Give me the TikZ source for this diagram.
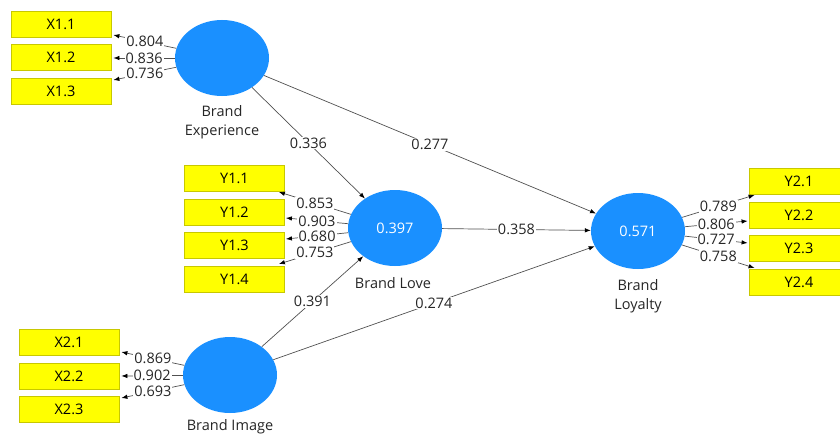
\documentclass[tikz,border=0pt]{standalone}
\usepackage{fontspec}
\setmainfont{Open Sans}
\usetikzlibrary{arrows.meta,calc,shapes.geometric}
\definecolor{lvblue}{HTML}{1A90FF}
\definecolor{indyel}{HTML}{FFFF00}
\definecolor{indbrd}{HTML}{C8C800}
\definecolor{pathgray}{HTML}{505050}
\begin{document}
\begin{tikzpicture}[x=1pt,y=-1pt,
  every node/.style={font=\fontsize{14.5}{18.5}\selectfont},
  latent/.style={ellipse,fill=lvblue,draw=none,minimum width=94pt,minimum height=76pt,inner sep=0pt,text=white},
  ind/.style={rectangle,fill=indyel,draw=indbrd,line width=0.8pt,minimum width=100pt,minimum height=26pt,inner sep=0pt,text=black},
  lname/.style={align=center,text=black!85},
  conn/.style={draw=pathgray,line width=0.7pt,-{Latex[length=6pt,width=4.5pt,color=black]}},
  coef/.style={fill=white,inner sep=1pt,text=black!85,pos=0.5}
]
\useasboundingbox (0,0) rectangle (840,436);
% latent variables
\node[latent] (be) at (222,58) {};
\node[latent] (bl) at (395,228) {0.397};
\node[latent] (by) at (638,231) {0.571};
\node[latent] (bi) at (230,375) {};
% names
\node[lname] (bet) at (222,122) {Brand\\Experience};
\node[lname] (blt) at (393,283) {Brand Love};
\node[lname] (byt) at (638,296) {Brand\\Loyalty};
\node[lname] (bit) at (230,427) {Brand Image};
% indicators
\node[ind] (x11) at (61,24) {X1.1};
\node[ind] (x12) at (61,57.5) {X1.2};
\node[ind] (x13) at (61,91) {X1.3};
\node[ind] (y11) at (234.5,178) {Y1.1};
\node[ind] (y12) at (234.5,212) {Y1.2};
\node[ind] (y13) at (234.5,245) {Y1.3};
\node[ind] (y14) at (234.5,279) {Y1.4};
\node[ind] (y21) at (799,181) {Y2.1};
\node[ind] (y22) at (799,215) {Y2.2};
\node[ind] (y23) at (799,248.5) {Y2.3};
\node[ind] (y24) at (799,282) {Y2.4};
\node[ind] (x21) at (69,342) {X2.1};
\node[ind] (x22) at (69,376) {X2.2};
\node[ind] (x23) at (69,409) {X2.3};
% tip coordinates
\coordinate (tx11) at ($(x11.east)+(2,11)$);
\coordinate (tx12) at ($(x12.east)+(2,0.5)$);
\coordinate (tx13) at ($(x13.east)+(2,-11)$);
\coordinate (ty11) at ($(y11.east)+(-6,14)$);
\coordinate (ty12) at ($(y12.east)+(1,6)$);
\coordinate (ty13) at ($(y13.east)+(1,-6)$);
\coordinate (ty14) at ($(y14.east)+(-6,-15)$);
\coordinate (ty21) at ($(y21.west)+(6,14)$);
\coordinate (ty22) at ($(y22.west)+(-1,6)$);
\coordinate (ty23) at ($(y23.west)+(-1,-5.5)$);
\coordinate (ty24) at ($(y24.west)+(6,-14)$);
\coordinate (tx21) at ($(x21.east)+(2,10)$);
\coordinate (tx22) at ($(x22.east)+(2,0)$);
\coordinate (tx23) at ($(x23.east)+(2,-11)$);
% outer loadings
\draw[conn] (be) -- node[coef]{0.804} (tx11);
\draw[conn] (be) -- node[coef]{0.836} (tx12);
\draw[conn] (be) -- node[coef]{0.736} (tx13);
\draw[conn] (bl) -- node[coef]{0.853} (ty11);
\draw[conn] (bl) -- node[coef]{0.903} (ty12);
\draw[conn] (bl) -- node[coef]{0.680} (ty13);
\draw[conn] (bl) -- node[coef]{0.753} (ty14);
\draw[conn] (by) -- node[coef]{0.789} (ty21);
\draw[conn] (by) -- node[coef]{0.806} (ty22);
\draw[conn] (by) -- node[coef]{0.727} (ty23);
\draw[conn] (by) -- node[coef]{0.758} (ty24);
\draw[conn] (bi) -- node[coef]{0.869} (tx21);
\draw[conn] (bi) -- node[coef]{0.902} (tx22);
\draw[conn] (bi) -- node[coef]{0.693} (tx23);
% structural paths
\draw[conn] (be) -- node[coef]{0.336} (bl);
\draw[conn] (be) -- node[coef]{0.277} (by);
\draw[conn] (bl) -- node[coef]{0.358} (by);
\draw[conn] (bi) -- node[coef]{0.391} (bl);
\draw[conn] (bi) -- node[coef]{0.274} (by);
\end{tikzpicture}
\end{document}
